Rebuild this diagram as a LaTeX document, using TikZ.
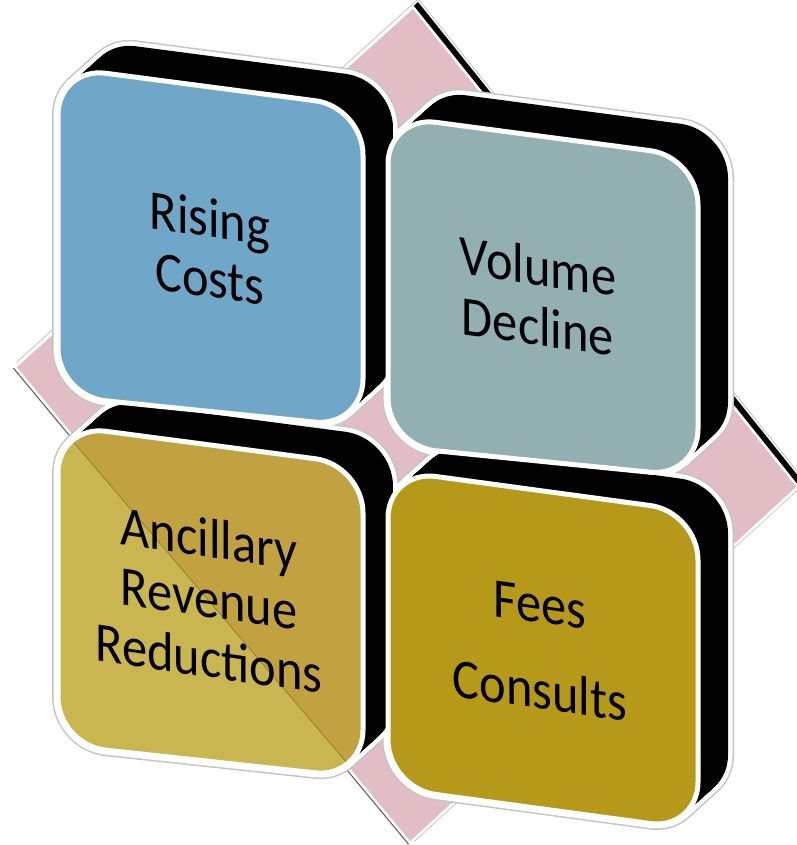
\documentclass[tikz,border=0pt]{standalone}
\usepackage{fontspec}
\setmainfont{Carlito}
\definecolor{platepink}{HTML}{E2BEC4}
\definecolor{costblue}{HTML}{70A6C7}
\definecolor{volteal}{HTML}{92B0B2}
\definecolor{ancLight}{HTML}{C9B650}
\definecolor{ancDark}{HTML}{C2A240}
\definecolor{feegold}{HTML}{B7991A}
\definecolor{rim}{HTML}{C4C4C4}
\begin{document}
\begin{tikzpicture}[x=1pt,y=-1pt,
  facerim/.style={rounded corners=48pt},
  tilelabel/.style={font=\fontsize{56}{60}\selectfont, align=center,
    xscale=0.9, yslant=-0.13, transform shape, inner sep=0pt, text=black},
]
% front faces of the four tiles (start mid left edge so every corner is rounded)
\def\faceA{(58,231.5) -- (58,67) -- (363,107) -- (363,427) -- (58,396) -- cycle}
\def\faceB{(388,281) -- (388,116) -- (698,157) -- (698,477) -- (388,446) -- cycle}
\def\faceC{(58,585) -- (58,425) -- (363,465) -- (363,778) -- (58,745) -- cycle}
\def\faceD{(388,629) -- (388,470) -- (698,512) -- (698,830) -- (388,788) -- cycle}
% the pink plate behind the tiles
\def\plate{(15,367) -- (413,7) -- (798,487) -- (410,843) -- cycle}

\useasboundingbox (0,0) rectangle (796,845);

% plate with its thin edge
\draw[rim, line width=5pt, shift={(5,-5)}] \plate;
\draw[white, line width=3pt, shift={(5,-5)}] \plate;
\fill[black, shift={(5,-5)}] \plate;
\filldraw[fill=platepink, draw=white, line width=2.5pt] \plate;
\draw[black!65, line width=1pt, shift={(-1.5,1.2)}] (15,367) -- (410,843);

% outlines of the extruded tiles
\foreach \f in {\faceA,\faceB,\faceC,\faceD}{
  \foreach \t in {0,0.05,...,1.01}
    \draw[rim, line width=12pt, facerim, shift={(30*\t,-27*\t)}] \f;
}
\foreach \f in {\faceA,\faceB,\faceC,\faceD}{
  \foreach \t in {0,0.05,...,1.01}
    \draw[white, line width=9pt, facerim, shift={(30*\t,-27*\t)}] \f;
}
% black depth of the tiles
\foreach \f in {\faceA,\faceB,\faceC,\faceD}{
  \foreach \t in {0,0.025,...,1.01}
    \fill[black, facerim, shift={(30*\t,-27*\t)}] \f;
}

% front faces
\filldraw[fill=costblue, draw=white, line width=5pt, facerim] \faceA;
\filldraw[fill=volteal, draw=white, line width=5pt, facerim] \faceB;
\fill[ancLight, facerim] \faceC;
\begin{scope}
  \clip[facerim] \faceC;
  \fill[ancDark] (30,391) -- (400,825) -- (400,380) -- cycle;
  \draw[ancDark!75!black, line width=0.7pt] (30,391) -- (400,825);
\end{scope}
\draw[white, line width=5pt, facerim] \faceC;
\filldraw[fill=feegold, draw=white, line width=5pt, facerim] \faceD;

% labels
\node[tilelabel] (rising) at (210,248) {Rising\\Costs};
\node[tilelabel] (volume) at (538,296) {Volume\\Decline};
\node[tilelabel] (ancillary) at (209,598) {Ancillary\\Revenue\\Reductions};
\node[tilelabel] (fees) at (540,648) {Fees\\[26pt]Consults};
\end{tikzpicture}
\end{document}
